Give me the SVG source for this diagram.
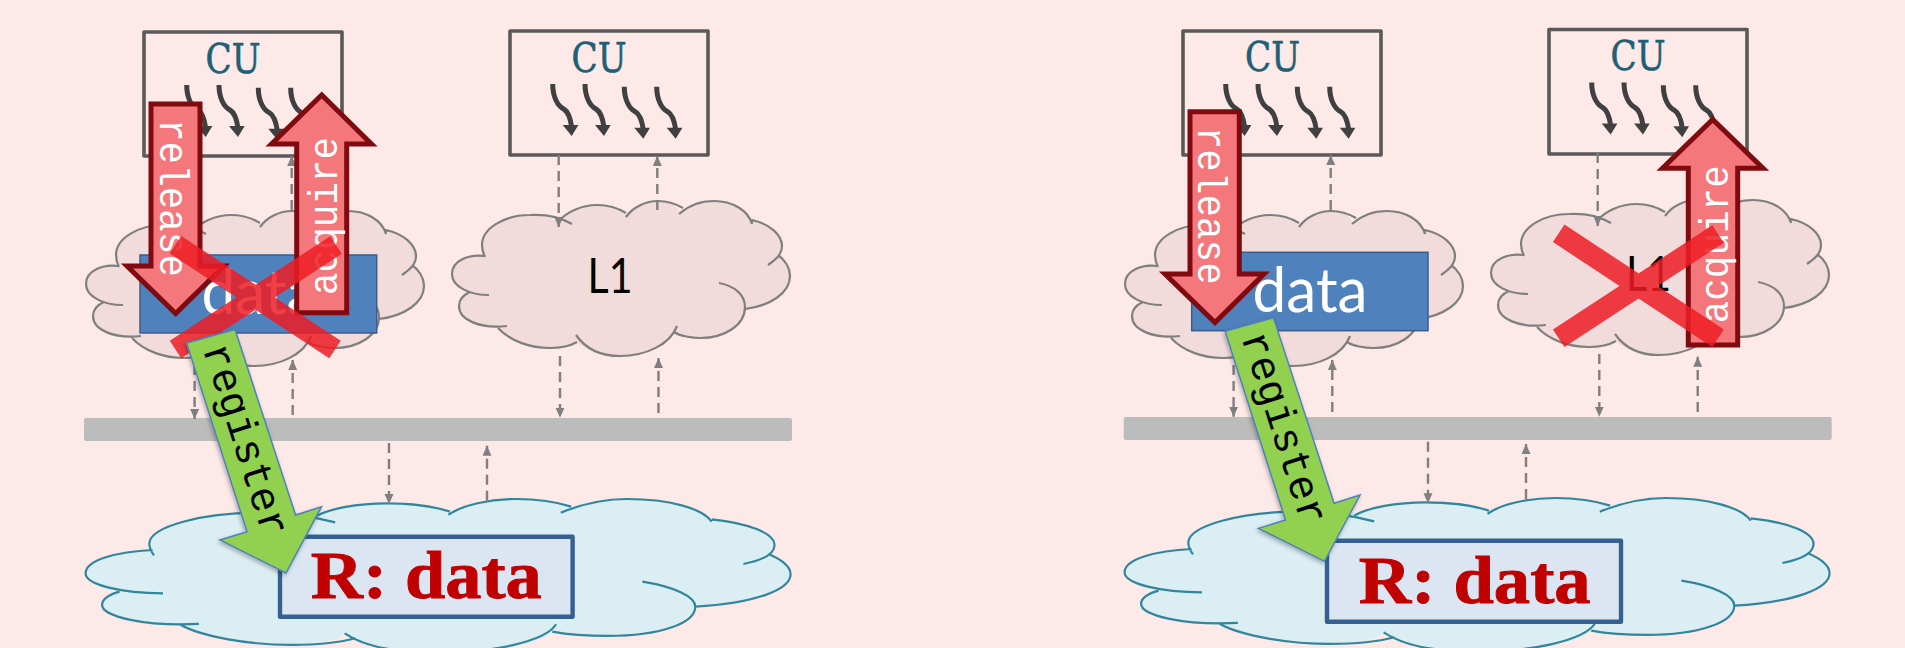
<svg xmlns="http://www.w3.org/2000/svg" width="1905" height="648" viewBox="0 0 1905 648">
<style>
.cf{stroke:none;vector-effect:non-scaling-stroke}
.cl{fill:none;stroke-linejoin:round;vector-effect:non-scaling-stroke}
.small{fill:#f2dcdb;stroke:#7f7f7f;stroke-width:2.2}
.big{fill:#daeef3;stroke:#31859c;stroke-width:2.2}
.cu{fill:none;stroke:#595959;stroke-width:3.6;stroke-linejoin:round}
.cut{font-family:"DejaVu Serif","Liberation Serif",serif;font-size:41px;fill:#215f76;stroke:#215f76;stroke-width:.6}
.sq{fill:none;stroke:#404040;stroke-width:5}
.sh{fill:#404040}
.bus{fill:#bcbcbc}
.data{fill:#4f81bd;stroke:#385d8a;stroke-width:1.5}
.datat{font-family:Lato,"Open Sans",sans-serif;font-size:62px;fill:#fff}
.l1{font-family:Lato,"Open Sans",sans-serif;font-size:48px;fill:#000}
.dash{stroke:#7f7f7f;stroke-width:2.4;stroke-dasharray:10 6;fill:none}
.red{fill:#f4777c;stroke:#7f0b10;stroke-width:5;stroke-miterlimit:10}
.mono{font-family:"Liberation Mono","DejaVu Sans Mono",monospace;font-size:40px}
.w{fill:#fff}
.reg{fill:#92d050;stroke:#4f81bd;stroke-width:1.5}
.x{stroke:#ed1c24;stroke-width:21;opacity:.85;fill:none}
.rbox{fill:#dce6f2;stroke:#376092;stroke-width:4.4;stroke-linejoin:round}
.rt{font-family:"Liberation Serif",serif;font-weight:bold;font-size:68px;fill:#c00000;stroke:#c00000;stroke-width:.9}
</style>
<defs>
<marker id="ah" markerUnits="userSpaceOnUse" markerWidth="11" markerHeight="10" refX="10" refY="4.500" orient="auto"><path d="M0,0L10,4.500L0,9z" fill="#7f7f7f"/></marker>
<filter id="shadow" x="-20%" y="-10%" width="140%" height="120%"><feDropShadow dx="-1" dy="2" stdDeviation="2" flood-color="#000" flood-opacity=".3"/></filter>
<g id="cloudS">
<path class="cf" d="M54,243C40,244 22,250 22,264C22,273 30,280 40,282C33,285 29,290 29,296C29,308 45,316 68,318C80,331 100,338 120,338C130,338 140,336 147,332C155,340 170,346 190,346C215,346 238,336 244,322C250,326 262,328 270,328C295,328 315,315 315,299C340,296 360,283 360,266C360,258 355,250 348,245C352,242 352,238 352,236C352,225 340,214 322,210C318,200 302,191 284,191C270,191 258,196 250,203C246,194 238,191 228,191C216,191 203,197 196,205C188,198 178,195 167,195C152,195 136,202 128,212C118,206 110,205 100,205C75,205 52,218 52,235C52,238 53,240 54,243z"/>
<path class="cl" d="M54,246C40,244 22,250 22,264C22,277 40,285 59,285M40,282C33,285 29,290 29,296C29,310 50,319 77,316M68,318C80,331 100,338 120,338C130,338 140,336 147,332M146,325C155,338 170,346 190,346C215,346 240,335 247,316M244,322C250,326 262,328 270,328C295,328 315,315 315,297C315,285 305,276 289,273M315,299C340,296 360,283 360,266C360,258 355,250 348,245M338,255C345,250 352,245 352,236C352,225 340,214 322,210C321,212 322,213 322,214M322,214C318,200 302,191 284,191C270,191 258,196 249,204M253,198C246,194 238,191 228,191C216,191 203,197 196,207M196,203C188,198 178,195 167,195C152,195 136,202 128,212M142,214C130,207 118,204 100,205C75,205 52,218 52,235C52,238 53,243 55,247"/>
</g>
<g id="cloudB">
<path class="cf" d="M175,660C100,665 33,690 33,730C33,760 70,778 105,785C80,795 68,810 68,825C68,855 140,882 235,885C280,920 380,945 470,945C520,945 560,938 582,910C620,945 680,965 750,965C900,975 1005,935 1022,905C1060,915 1100,918 1140,918C1250,918 1325,880 1325,830C1450,820 1527,780 1527,733C1527,710 1510,690 1480,672C1490,665 1493,655 1493,645C1493,610 1440,580 1360,570C1340,535 1270,507 1180,507C1130,507 1090,518 1062,530C1030,515 990,507 945,507C890,507 830,525 805,545C770,528 720,520 670,520C610,520 550,535 530,550C480,548 450,548 400,548C280,548 170,590 168,640C168,650 170,655 175,660z"/>
<path class="cl" d="M175,660C100,665 33,690 33,730C33,765 110,790 197,790M105,785C80,795 68,810 68,825C68,860 160,890 273,882M235,885C280,920 380,945 470,945C520,945 570,938 605,925M582,910C620,945 680,965 750,965C900,975 1010,930 1030,883M1022,905C1060,915 1100,918 1140,918C1250,918 1325,880 1325,830C1325,800 1280,770 1213,755M1325,830C1450,820 1527,780 1527,733C1527,710 1510,690 1480,672M1427,702C1470,690 1493,670 1493,645C1493,610 1440,580 1360,568M1360,575C1340,535 1270,507 1180,507C1130,507 1080,525 1040,548M1062,530C1030,515 990,507 945,507C890,507 830,525 802,555M805,545C770,528 720,520 670,520C610,520 550,535 520,560M562,577C510,558 450,548 400,548C280,548 170,590 168,640C168,650 172,665 178,676"/>
</g>
<g id="sq"><path class="sq" d="M0,0C0,13 5,22 11,25C16,28 18,36 19,43"/><path class="sh" d="M10,41L25.700,41L19,52z"/></g>
<g id="cuArrows"><use href="#sq" x="42.700" y="53"/><use href="#sq" x="75" y="53"/><use href="#sq" x="114.300" y="55.700"/><use href="#sq" x="146.700" y="55.700"/></g>
</defs>
<rect id="background" width="1905" height="648" fill="#fdeae8"/>

<g id="cache-left"><use href="#cloudS" class="small" transform="translate(64,20)"/></g>
<g id="cache-l1-left"><use href="#cloudS" class="small" transform="translate(430,10)"/><text class="l1" x="587.500" y="292.700" textLength="45" lengthAdjust="spacingAndGlyphs">L1</text></g>
<g id="cache-right"><use href="#cloudS" class="small" transform="translate(1103,20)"/></g>
<g id="cache-l1-right"><use href="#cloudS" class="small" transform="translate(1469,9)"/><text class="l1" x="1626" y="291" textLength="45" lengthAdjust="spacingAndGlyphs">L1</text></g>
<g id="remote-left"><use href="#cloudB" class="big" transform="translate(70,330) scale(.4719,.3333)"/></g>
<g id="remote-right"><use href="#cloudB" class="big" transform="translate(1109,329) scale(.4719,.3333)"/></g>

<g id="bus-left"><rect class="bus" x="84" y="418" width="708" height="23" rx="2"/></g>
<g id="bus-right"><rect class="bus" x="1123.700" y="417" width="708" height="23" rx="2"/></g>

<g id="cu-1"><rect class="cu" x="144" y="32" width="198" height="124"/><text class="cut" x="205.500" y="72.700" textLength="55" lengthAdjust="spacingAndGlyphs">CU</text><use href="#cuArrows" x="144" y="32"/></g>
<g id="cu-2"><rect class="cu" x="510" y="31" width="198" height="124"/><text class="cut" x="571.500" y="71.700" textLength="55" lengthAdjust="spacingAndGlyphs">CU</text><use href="#cuArrows" x="510" y="31"/></g>
<g id="cu-3"><rect class="cu" x="1183" y="31" width="198" height="124"/><text class="cut" x="1245" y="71" textLength="55" lengthAdjust="spacingAndGlyphs">CU</text><use href="#cuArrows" x="1183" y="31"/></g>
<g id="cu-4"><rect class="cu" x="1549" y="29.500" width="198" height="124.500"/><text class="cut" x="1610.500" y="70" textLength="55" lengthAdjust="spacingAndGlyphs">CU</text><use href="#cuArrows" x="1549" y="29.500"/></g>

<g id="connectors">
<path class="dash" d="M192.700,156V236" marker-end="url(#ah)"/>
<path class="dash" d="M291.700,210V156" marker-end="url(#ah)"/>
<path class="dash" d="M558.700,155V227" marker-end="url(#ah)"/>
<path class="dash" d="M657.300,210V156" marker-end="url(#ah)"/>
<path class="dash" d="M194.600,365V419" marker-end="url(#ah)"/>
<path class="dash" d="M292.700,415V360" marker-end="url(#ah)"/>
<path class="dash" d="M560,356V417.700" marker-end="url(#ah)"/>
<path class="dash" d="M658.500,413V358" marker-end="url(#ah)"/>
<path class="dash" d="M389,443V504" marker-end="url(#ah)"/>
<path class="dash" d="M487,500.700V445.700" marker-end="url(#ah)"/>
<path class="dash" d="M1232,155V236" marker-end="url(#ah)"/>
<path class="dash" d="M1330.700,210V155" marker-end="url(#ah)"/>
<path class="dash" d="M1597.700,153V226" marker-end="url(#ah)"/>
<path class="dash" d="M1696,209V155" marker-end="url(#ah)"/>
<path class="dash" d="M1233.600,365V416.700" marker-end="url(#ah)"/>
<path class="dash" d="M1332.300,412V360" marker-end="url(#ah)"/>
<path class="dash" d="M1599.300,354V416.700" marker-end="url(#ah)"/>
<path class="dash" d="M1697.700,412V356.700" marker-end="url(#ah)"/>
<path class="dash" d="M1428,441.700V503.300" marker-end="url(#ah)"/>
<path class="dash" d="M1526,499V444" marker-end="url(#ah)"/>
</g>

<g id="data-left"><rect class="data" x="140" y="255" width="236.700" height="78"/><text class="datat" x="201.500" y="314" textLength="115" lengthAdjust="spacingAndGlyphs">data</text></g>
<g id="data-right"><rect class="data" x="1191.700" y="252.300" width="236.300" height="78.400"/><text class="datat" x="1252.500" y="311.700" textLength="115" lengthAdjust="spacingAndGlyphs">data</text></g>

<g id="r-data-left"><rect class="rbox" x="280" y="536.700" width="292.600" height="80"/><text class="rt" x="310.700" y="598" textLength="231" lengthAdjust="spacingAndGlyphs">R: data</text></g>
<g id="r-data-right"><rect class="rbox" x="1327" y="540.700" width="294" height="81"/><text class="rt" x="1358.700" y="603" textLength="232" lengthAdjust="spacingAndGlyphs">R: data</text></g>

<g id="release-left"><path class="red" d="M151,104H200V266H224L175.700,313.500L127,266H151z"/><text class="mono w" transform="translate(160,119) rotate(90)" textLength="158" lengthAdjust="spacingAndGlyphs">release</text></g>
<g id="acquire-left"><path class="red" d="M296.700,312.700H346.700V144H371.500L321.700,95L271.500,144H296.700z"/><text class="mono w" transform="translate(336.700,295) rotate(-90)" textLength="158" lengthAdjust="spacingAndGlyphs">acquire</text></g>
<g id="cross-left"><path class="x" d="M175.500,244.700L335,349.500M336,245L175.500,349.500"/></g>
<g id="register-left"><path class="reg" filter="url(#shadow)" d="M186.600,343L235,329.500L295.600,515L321.500,506.700L286,573L220,540L247,531.700z"/><text class="mono" style="font-size:42px" transform="translate(202.500,348.400) rotate(72.200)" textLength="200" lengthAdjust="spacingAndGlyphs">register</text></g>

<g id="release-right"><path class="red" d="M1190,111.700H1239.300V274H1264L1215,322.500L1165,274H1190z"/><text class="mono w" transform="translate(1198.300,126.700) rotate(90)" textLength="158" lengthAdjust="spacingAndGlyphs">release</text></g>
<g id="acquire-right"><path class="red" d="M1688.300,345H1737.700V168.300H1763L1712.700,119.500L1662.500,168.300H1688.300z"/><text class="mono w" transform="translate(1728.300,323.300) rotate(-90)" textLength="158" lengthAdjust="spacingAndGlyphs">acquire</text></g>
<g id="cross-right"><path class="x" d="M1558.700,233.300L1718,338.300M1718,234L1558.700,338.300"/></g>
<g id="register-right"><path class="reg" filter="url(#shadow)" d="M1225.100,331.300L1273.500,317.800L1334.100,503.300L1360,495L1324.500,561.300L1258.500,528.300L1285.500,520z"/><text class="mono" style="font-size:42px" transform="translate(1241,336.700) rotate(72.200)" textLength="200" lengthAdjust="spacingAndGlyphs">register</text></g>
</svg>
